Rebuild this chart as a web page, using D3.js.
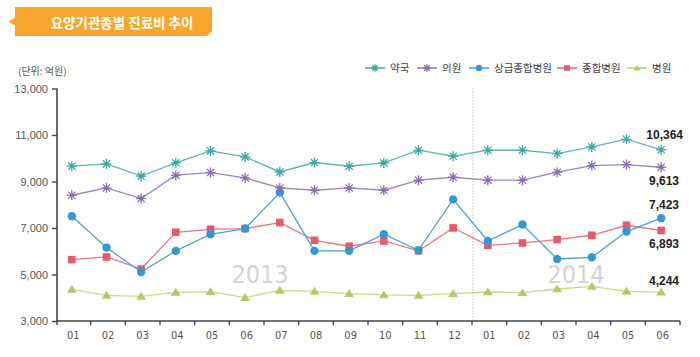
<!DOCTYPE html>
<html><head><meta charset="utf-8">
<script src="https://cdn.jsdelivr.net/npm/d3@7"></script>
<style>
html,body{margin:0;padding:0;background:#fff;}
svg{display:block;}
</style></head>
<body>
<svg id="c" width="700" height="357"></svg>
<script>
const months = ["01","02","03","04","05","06","07","08","09","10","11","12","01","02","03","04","05","06"];
const yearLabels = ["2013","2014"];
const yTicks = [3000,5000,7000,9000,11000,13000];
const seriesNames = ["약국","의원","상급종합병원","종합병원","병원"];
const pharmacy = [9660,9756,9230,9805,10315,10057,9411,9816,9657,9799,10345,10087,10345,10345,10203,10487,10818,10364];
const clinic = [8409,8723,8267,9270,9385,9153,8723,8624,8723,8624,9055,9183,9055,9055,9399,9686,9730,9613];
const tertiary = [7505,6158,5108,6016,6730,6976,8525,6016,6016,6730,6043,8230,6442,7148,5668,5740,6847,7423];
const general = [5642,5754,5237,6817,6945,6976,7234,6472,6215,6442,6016,7003,6257,6356,6502,6688,7118,6893];
const hospital = [4364,4106,4063,4235,4264,4006,4321,4278,4178,4120,4106,4178,4248,4220,4377,4493,4278,4244];
const lastLabels = ["10,364","9,613","7,423","6,893","4,244"];

const svg = d3.select("#c");
const idx = d3.range(months.length);
const x = d3.scaleBand().domain(idx).range([56, 680]).padding(0);
const y = d3.scaleLinear().domain([3000, 13000]).range([321, 88.5]);
const cx = i => x(i) + x.bandwidth()/2 - 1.5;

// Title banner
const tb = svg.append("g");
tb.append("path").attr("d","M15,7 L212,7 L212,31 L207,36 L15,36 L15,25.5 L8.5,21.5 L15,17.5 Z").attr("fill","#F6A62B");
tb.append("text").attr("x",122).attr("y",27.5).attr("text-anchor","middle")
  .attr("font-family","'Noto Sans CJK KR', sans-serif").attr("font-weight","bold").attr("font-size",13.5)
  .attr("fill","#fff").text("요양기관종별 진료비 추이");

// unit
svg.append("text").attr("x",18).attr("y",75).attr("font-family","'Noto Sans CJK KR', sans-serif")
  .attr("font-size",10).attr("fill","#555").text("(단위: 억원)");

// Year watermarks
svg.append("text").attr("x", x(6) - 4).attr("y",283).attr("text-anchor","middle")
  .attr("font-family","'Liberation Sans Narrow','DejaVu Sans Condensed',Roboto,sans-serif").attr("font-size",25)
  .attr("fill","#d4d4d4").text(yearLabels[0]);
svg.append("text").attr("x", x(15)).attr("y",283).attr("text-anchor","middle")
  .attr("font-family","'Liberation Sans Narrow','DejaVu Sans Condensed',Roboto,sans-serif").attr("font-size",25)
  .attr("fill","#d4d4d4").text(yearLabels[1]);

// dotted divider
svg.append("line").attr("x1", x(12)+1).attr("x2", x(12)+1).attr("y1", y(13000)).attr("y2", y(3000))
  .attr("stroke","#999").attr("stroke-width",1).attr("stroke-dasharray","1,2");

// Y axis
const yAxis = svg.append("g").attr("transform","translate(57,0)")
  .call(d3.axisLeft(y).tickValues(yTicks).tickSize(5).tickFormat(d3.format(",")));
yAxis.select(".domain").attr("stroke","#444").attr("stroke-width",1.6).attr("d","M0,"+y(13000)+"V"+y(3000));
yAxis.selectAll(".tick line").attr("stroke","#444").attr("stroke-width",1.4);
yAxis.selectAll(".tick text").attr("font-family","'Liberation Sans', Arial, sans-serif").attr("font-size",11).attr("fill","#555").attr("x",-9);

// X axis
const xAxis = svg.append("g").attr("transform","translate(0,"+y(3000)+")")
  .call(d3.axisBottom(x).tickSize(0).tickFormat(i => months[i]));
xAxis.select(".domain").attr("stroke","#444").attr("stroke-width",1.6).attr("d","M56,0H680");
xAxis.selectAll(".tick text").attr("font-family","'Liberation Sans Narrow','DejaVu Sans Condensed',Roboto,sans-serif")
  .attr("font-size",11).attr("fill","#555").attr("dy","1.35em");
const bounds = d3.range(months.length + 1);
xAxis.selectAll(".bt").data(bounds).join("line").attr("class","bt")
  .attr("x1", i => 56 + i*x.bandwidth() + (i===0?1:0)).attr("x2", i => 56 + i*x.bandwidth() + (i===0?1:0))
  .attr("y1",0).attr("y2",4).attr("stroke","#444").attr("stroke-width",1.4);

// Series config
const series = [
  {name: seriesNames[0], values: pharmacy, line:"#5FB7B3", mark:"#3AA7A3", shape:"star"},
  {name: seriesNames[1], values: clinic, line:"#9B85C0", mark:"#8A6BB5", shape:"star"},
  {name: seriesNames[2], values: tertiary, line:"#4FA1CE", mark:"#3498D5", shape:"circle"},
  {name: seriesNames[3], values: general, line:"#E87584", mark:"#E65A6C", shape:"square"},
  {name: seriesNames[4], values: hospital, line:"#C8DA8E", mark:"#B3CB66", shape:"tri"}
];

function drawMarker(g, shape, color, px, py, s) {
  s = s || 1;
  if (shape === "star") {
    const r = 5*s;
    const p = g.append("g").attr("transform","translate("+px+","+py+")");
    [[0,-r,0,r],[-r,0,r,0],[-r*0.72,-r*0.72,r*0.72,r*0.72],[-r*0.72,r*0.72,r*0.72,-r*0.72]].forEach(c => {
      p.append("line").attr("x1",c[0]).attr("y1",c[1]).attr("x2",c[2]).attr("y2",c[3])
        .attr("stroke",color).attr("stroke-width",1.3);
    });
    p.append("circle").attr("r",1.8*s).attr("fill",color);
  } else if (shape === "circle") {
    g.append("circle").attr("cx",px).attr("cy",py).attr("r",4.2*s).attr("fill",color);
  } else if (shape === "square") {
    g.append("rect").attr("x",px-3.8*s).attr("y",py-3.8*s).attr("width",7.6*s).attr("height",7.6*s).attr("fill",color);
  } else {
    const h = 4.5*s;
    g.append("path").attr("d","M"+px+","+(py-h)+" L"+(px+h*1.1)+","+(py+h*0.75)+" L"+(px-h*1.1)+","+(py+h*0.75)+" Z").attr("fill",color);
  }
}

const line = d3.line().x((d,i) => cx(i)).y(d => y(d));
const drawOrder = [4,3,2,1,0];
drawOrder.forEach(k => {
  const s = series[k];
  const g = svg.append("g");
  g.append("path").attr("d", line(s.values)).attr("fill","none").attr("stroke",s.line).attr("stroke-width",1.3);
  s.values.forEach((v,i) => drawMarker(g, s.shape, s.mark, cx(i), y(v)));
});

// end labels
const labelDy = [-15, 14, -13, 13, -11];
const labelRight = [683, 679, 679, 679, 679];
series.forEach((s,k) => {
  const last = s.values.length - 1;
  svg.append("text").attr("x", labelRight[k]).attr("y", y(s.values[last]) + labelDy[k]).attr("dy","0.35em")
    .attr("text-anchor","end").attr("font-family","'Liberation Sans', Arial, sans-serif").attr("font-weight","bold")
    .attr("font-size",12).attr("fill","#222").text(lastLabels[k]);
});

// legend
const legX = [365, 417, 469, 557, 627];
const lg = svg.append("g");
series.forEach((s,k) => {
  const lx = legX[k], ly = 68;
  lg.append("line").attr("x1",lx).attr("x2",lx+20).attr("y1",ly).attr("y2",ly).attr("stroke",s.mark).attr("stroke-width",1.4);
  drawMarker(lg, s.shape, s.mark, lx+10, ly, 0.75);
  lg.append("text").attr("x",lx+25).attr("y",ly).attr("dy","0.35em").attr("font-family","'Noto Sans CJK KR', sans-serif")
    .attr("font-size",10.5).attr("fill","#444").text(s.name);
});
</script>
</body></html>
